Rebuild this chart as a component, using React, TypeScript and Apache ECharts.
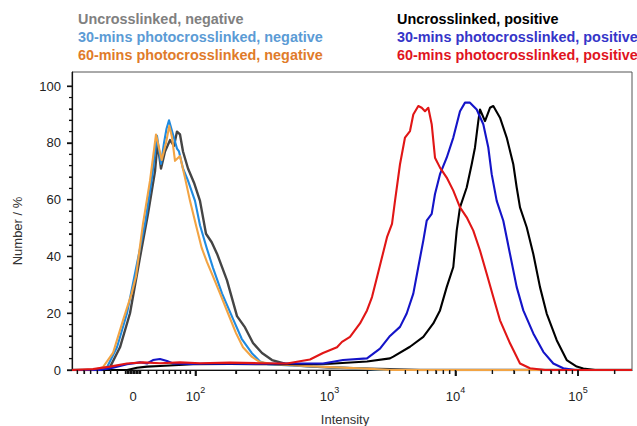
import { useEffect, useRef } from 'react';
import * as echarts from 'echarts';

// x values are display channels of the biexponential intensity axis (0 = the "0" label)
const X_MIN = -61;
const X_MAX = 499;
const Y_MIN = 0;
const Y_MAX = 105;

// tick labels and their channel positions
const xLabelValues = [0, 62.5, 196.5, 322.5, 445];
const xLabelBase = ['0', '10', '10', '10', '10'];
const xLabelExp = ['', '2', '3', '4', '5'];
// decade channel positions for 10^2 .. 10^6
const decadePos = [62.5, 196.5, 322.5, 445, 567];
// minor ticks in the linear region around zero
const linearMinorTicks = [-55.7, -49, -42.3, -35.7, -29, -22.3, -15.7, -7.5, -6, -4.5, -3, -1.5, 0, 1.5, 3, 4.5, 6, 7.5, 15.3, 23.7, 30.3, 36.3, 42, 47.7, 53, 57];

const yMajor = [0, 20, 40, 60, 80, 100];
const yMinor = [4, 8, 12, 16, 24, 28, 32, 36, 44, 48, 52, 56, 64, 68, 72, 76, 84, 88, 92, 96];

const seriesNames = [
  'Uncrosslinked, negative',
  '30-mins photocrosslinked, negative',
  '60-mins photocrosslinked, negative',
  'Uncrosslinked, positive',
  '30-mins photocrosslinked, positive',
  '60-mins photocrosslinked, positive',
];

const uncrossNeg: [number, number][] = [
  [-61, 0], [-28, 0], [-23, 1], [-13, 8], [-3, 20], [7, 39.7], [15, 55], [22, 70], [24.5, 80], [28, 71], [32, 77],
  [37, 81], [41, 79], [44, 84], [47, 83], [50, 77], [55, 71], [61, 66], [67, 59.6], [73, 48], [78.7, 45], [84, 41],
  [94, 31.6], [104, 19], [112, 15], [120, 9.5], [129, 6], [139, 3.5], [152, 2.2], [167, 1.5], [197, 0.9], [237, 0.5],
  [287, 0], [499, 0],
];

const min30Neg: [number, number][] = [
  [-61, 0], [-33, 0], [-26, 1], [-16, 8], [-6, 20], [4, 37.5], [12, 51.6], [19, 67.7], [24, 82.5], [28, 72.6], [31, 80],
  [33.5, 85], [36, 88], [40, 83], [44, 78], [46, 77], [50, 71], [55, 66.7], [62, 59.6], [67, 51], [73.7, 43], [80, 36],
  [89, 27], [100, 18], [108.7, 11], [118.7, 6], [127, 3], [135, 2], [157, 1.6], [197, 1], [237, 0.3], [252, 0], [499, 0],
];

const min60Neg: [number, number][] = [
  [-61, 0], [-40, 0], [-30, 1], [-20, 6], [-10, 17.5], [-1.3, 27], [3, 33], [10, 51.6], [17, 66.7], [23, 83], [28.7, 74],
  [33, 80], [36.3, 86], [39, 82], [42, 73.7], [47, 75.4], [52, 67.7], [57, 59.6], [63, 51], [68.7, 43], [74, 38], [80, 33],
  [87, 27], [95, 20], [103, 13], [110, 8], [119, 4.6], [127, 2.8], [142, 2], [167, 1.5], [197, 1], [237, 0.4], [257, 0],
  [499, 0],
];

const uncrossPos: [number, number][] = [
  [-61, 0], [-6, 0], [4, 0.8], [14, 1.2], [27, 1.4], [60, 2], [97, 2.1], [137, 2], [167, 2], [197, 2.2], [234, 3],
  [257, 4.1], [260.3, 4.7], [277, 8.2], [290.3, 11.7], [300.3, 16.4], [307, 21], [313.7, 29.2], [320.3, 36.3],
  [323.7, 49.1], [327, 57.3], [333.7, 64.3], [338.7, 72.5], [342, 78.4], [345.3, 87.7], [347, 91.8], [352, 87.7],
  [357, 92.4], [360.3, 93], [367, 88.9], [373.7, 81.9], [380.3, 72.5], [383.7, 64.3], [387, 57.3], [393.7, 50.3],
  [400.3, 40.9], [407, 29.2], [413.7, 19.9], [423.7, 10.5], [433.7, 3.5], [443.7, 1.2], [450.3, 0.5], [462, 0], [499, 0],
];

const min30Pos: [number, number][] = [
  [-61, 0], [-33, 0], [-20, 0.8], [-6, 2], [7, 2.7], [14, 2.3], [20, 3.5], [27, 3.9], [34, 3.2], [40, 2.3], [57, 2.1],
  [87, 2.3], [117, 2.1], [154, 2.3], [190, 2.3], [210, 3.5], [234, 4.1], [247, 7.5], [257, 12], [267, 15.2],
  [273.7, 19.9], [280.3, 26.9], [285.3, 36.3], [290.3, 45.6], [293.7, 52.6], [298.7, 55], [302, 62], [307, 69],
  [313.7, 74.8], [320.3, 81.9], [327, 91.2], [332, 94.2], [337, 94.2], [343.7, 91.8], [350.3, 86.6], [355.3, 78.4],
  [358.7, 69], [363.7, 59.6], [370.3, 52.6], [377, 40.9], [383.7, 29.2], [390.3, 21], [400.3, 12.9], [410.3, 6.4],
  [420.3, 2.3], [430.3, 0.6], [442, 0], [499, 0],
];

const min60Pos: [number, number][] = [
  [-61, 0], [-40, 0.3], [-23, 1.2], [-6, 2.3], [10, 2.7], [27, 2.4], [47, 2.7], [67, 2.4], [97, 2.6], [127, 2.4],
  [154, 2.3], [164, 2.9], [177, 3.7], [190, 6], [204, 8], [209, 9.9], [217, 11.7], [227, 16.4], [234, 21], [239, 25.7],
  [244, 32.7], [249, 39.7], [254, 46.8], [259, 51.5], [262, 59.6], [267, 72.5], [272, 81.9], [277, 84.2], [280.3, 90],
  [285.3, 93], [288.7, 92.4], [292, 91.2], [295.3, 92.4], [298.7, 86.6], [302, 74.8], [307, 71.3], [313.7, 67.8],
  [320.3, 63.2], [327, 57.3], [333.7, 53.8], [340.3, 49.1], [347, 42.1], [353.7, 33.9], [360.3, 25.7], [367, 17.5],
  [377, 9.4], [387, 2.3], [397, 0.6], [412, 0], [499, 0],
];

const lineColors = ['#454545', '#1f8ae0', '#f2a444', '#000000', '#1414c8', '#e11616'];
const legendColors = ['#808080', '#5b9bd5', '#e07b2a', '#000000', '#3535c8', '#e0141e'];
const seriesData = [uncrossNeg, min30Neg, min60Neg, uncrossPos, min30Pos, min60Pos];

const FONT = "'Liberation Sans', Arial, 'DejaVu Sans', sans-serif";
const TICK_COLOR = '#111';

// axis coordinate = channel offset so that the axis starts at 0 (keeps both axes on their zero lines)
const toAxis = (u: number) => u - X_MIN;

function logMinorTicks(): number[] {
  const out: number[] = [];
  for (let i = 0; i < decadePos.length - 1; i++) {
    const a = decadePos[i];
    const b = decadePos[i + 1];
    for (let k = 2; k <= 9; k++) {
      const v = a + Math.log10(k) * (b - a);
      if (v <= X_MAX) out.push(v);
    }
  }
  return out;
}

export default function App() {
  const ref = useRef<HTMLDivElement>(null);
  useEffect(() => {
    if (!ref.current) return;
    const chart = echarts.init(ref.current, undefined, { renderer: 'svg' });
    const majorX = decadePos.slice(0, 4).map(toAxis);
    const minorX = [...linearMinorTicks, ...logMinorTicks()].map(toAxis);
    const labelX = xLabelValues.map(toAxis);
    const legendBase = {
      orient: 'vertical' as const,
      top: 7,
      icon: 'none',
      itemWidth: 1,
      itemHeight: 14,
      itemGap: 4,
      selectedMode: false,
      textStyle: { fontFamily: FONT, fontSize: 14.4, fontWeight: 'bold' as const },
    };
    const axisMin = toAxis(X_MIN);
    const axisMax = toAxis(X_MAX);
    chart.setOption({
      animation: false,
      backgroundColor: '#ffffff',
      grid: {
        left: 72, right: 5, top: 72, bottom: 56,
        outerBoundsMode: 'none',
        containLabel: false,
        show: true, borderColor: '#555', borderWidth: 1,
      },
      legend: [
        {
          ...legendBase,
          left: 67,
          data: [0, 1, 2].map((i) => ({ name: seriesNames[i], textStyle: { color: legendColors[i] } })),
        },
        {
          ...legendBase,
          left: 386,
          data: [3, 4, 5].map((i) => ({ name: seriesNames[i], textStyle: { color: legendColors[i] } })),
        },
      ],
      xAxis: [
        {
          type: 'value',
          min: axisMin,
          max: axisMax,
          position: 'bottom',
          name: 'Intensity',
          nameLocation: 'middle',
          nameGap: 43,
          nameTextStyle: { fontFamily: FONT, fontSize: 13, color: '#333', padding: [0, 14, 0, 0] },
          axisLine: { show: true, lineStyle: { color: TICK_COLOR, width: 1.2 } },
          axisTick: { show: true, length: 6, customValues: majorX, lineStyle: { color: TICK_COLOR, width: 1.6 } },
          axisLabel: {
            customValues: labelX,
            formatter: (v: number) => {
              const idx = labelX.findIndex((p) => Math.abs(p - v) < 0.01);
              if (idx < 0) return '';
              return xLabelExp[idx] ? `{b|${xLabelBase[idx]}}{s|${xLabelExp[idx]}}` : `{b|${xLabelBase[idx]}}`;
            },
            rich: {
              b: { fontFamily: FONT, fontSize: 13, color: '#222', lineHeight: 18, verticalAlign: 'bottom' },
              s: { fontFamily: FONT, fontSize: 9, color: '#222', lineHeight: 18, verticalAlign: 'top' },
            },
            margin: 15,
            fontFamily: FONT,
            fontSize: 13,
            color: '#222',
          },
          splitLine: { show: false },
        },
        {
          type: 'value',
          min: axisMin,
          max: axisMax,
          position: 'bottom',
          axisLine: { show: false },
          axisTick: { show: true, length: 4, customValues: minorX, lineStyle: { color: TICK_COLOR, width: 1.2 } },
          axisLabel: { show: false },
          splitLine: { show: false },
        },
      ],
      yAxis: [
        {
          type: 'value',
          min: Y_MIN,
          max: Y_MAX,
          position: 'left',
          name: 'Number / %',
          nameLocation: 'middle',
          nameGap: 48,
          nameTextStyle: { fontFamily: FONT, fontSize: 13, color: '#333', padding: [0, 20, 0, 0] },
          axisLine: { show: true, lineStyle: { color: TICK_COLOR, width: 1.2 } },
          axisTick: { show: true, length: 5, customValues: yMajor, lineStyle: { color: TICK_COLOR, width: 1.3 } },
          axisLabel: { customValues: yMajor, margin: 11, fontFamily: FONT, fontSize: 13, color: '#222' },
          splitLine: { show: false },
        },
        {
          type: 'value',
          min: Y_MIN,
          max: Y_MAX,
          position: 'left',
          axisLine: { show: false },
          axisTick: { show: true, length: 3, customValues: yMinor, lineStyle: { color: TICK_COLOR, width: 1.1 } },
          axisLabel: { show: false },
          splitLine: { show: false },
        },
      ],
      series: seriesData.map((d, i) => ({
        name: seriesNames[i],
        type: 'line',
        xAxisIndex: 0,
        yAxisIndex: 0,
        data: d.map(([u, y]) => [toAxis(u), y]),
        showSymbol: false,
        symbol: 'none',
        smooth: false,
        color: lineColors[i],
        lineStyle: { color: lineColors[i], width: i === 0 ? 2.4 : 2.1, join: 'round' },
        z: 2 + i,
      })),
    });

    // tick marks also placed through the chart's own scales (graphic layer)
    const finder = { xAxisIndex: 0, yAxisIndex: 0 };
    const tickLines: any[] = [];
    const addX = (v: number, len: number, w: number) => {
      const p = chart.convertToPixel(finder as any, [v, Y_MIN]) as number[];
      if (!p) return;
      tickLines.push({ type: 'line', silent: true, z: 50, shape: { x1: p[0], y1: p[1], x2: p[0], y2: p[1] + len }, style: { stroke: TICK_COLOR, lineWidth: w } });
    };
    const addY = (v: number, len: number, w: number) => {
      const p = chart.convertToPixel(finder as any, [axisMin, v]) as number[];
      if (!p) return;
      tickLines.push({ type: 'line', silent: true, z: 50, shape: { x1: p[0] - len, y1: p[1], x2: p[0], y2: p[1] }, style: { stroke: TICK_COLOR, lineWidth: w } });
    };
    majorX.forEach((v) => addX(v, 6, 1.6));
    minorX.forEach((v) => addX(v, 4, 1.2));
    yMajor.forEach((v) => addY(v, 5, 1.3));
    yMinor.forEach((v) => addY(v, 3, 1.1));
    chart.setOption({ graphic: tickLines });

    return () => chart.dispose();
  }, []);
  return <div ref={ref} style={{ position: 'fixed', left: 0, top: 0, width: 637, height: 426 }} />;
}
